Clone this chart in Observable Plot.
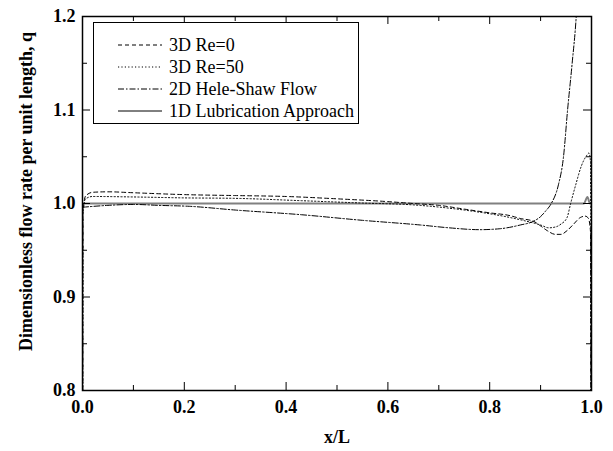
<!DOCTYPE html>
<html><head><meta charset="utf-8">
<script src="https://cdn.jsdelivr.net/npm/d3@7"></script>
<script src="https://cdn.jsdelivr.net/npm/@observablehq/plot@0.6"></script>
<style>
body{margin:0;background:#fff}
#chart{position:relative;width:613px;height:451px}
</style>
</head><body><div id="chart"></div>
<script>
// ---- tick values ----
const xTicks = [0, 0.2, 0.4, 0.6, 0.8, 1.0];
const xMinor = [0.1, 0.3, 0.5, 0.7, 0.9];
const yTicks = [0.8, 0.9, 1.0, 1.1, 1.2];
const yMinor = [0.85, 0.95, 1.05, 1.15];
const xTitle = "x/L";
const yTitle = "Dimensionless flow rate per unit length, q";
const seriesNames = ["3D Re=0", "3D Re=50", "2D Hele-Shaw Flow", "1D Lubrication Approach"];

// ---- series values ----
const xRe0 = [0, 0.001, 0.006, 0.02, 0.05, 0.1, 0.2, 0.3, 0.4, 0.5, 0.6, 0.65, 0.7, 0.75, 0.8, 0.84, 0.86, 0.886, 0.9, 0.913, 0.929, 0.94, 0.952, 0.965, 0.978, 0.988, 0.994, 0.998, 0.9995];
const qRe0 = [0.0, 0.99, 1.008, 1.012, 1.0125, 1.0115, 1.0095, 1.0085, 1.0075, 1.005, 1.002, 1.0, 0.998, 0.994, 0.99, 0.987, 0.984, 0.981, 0.976, 0.971, 0.967, 0.967, 0.971, 0.978, 0.985, 0.9865, 0.984, 0.97, 0.0];

const xRe50 = [0, 0.001, 0.006, 0.02, 0.1, 0.2, 0.3, 0.43, 0.55, 0.65, 0.75, 0.84, 0.88, 0.9, 0.916, 0.93, 0.94, 0.952, 0.959, 0.969, 0.98, 0.99, 0.995, 0.998, 0.9995];
const qRe50 = [0.0, 0.99, 1.005, 1.0075, 1.007, 1.006, 1.0055, 1.003, 1.0005, 0.9985, 0.993, 0.985, 0.98, 0.977, 0.974, 0.975, 0.978, 0.985, 1.0, 1.02, 1.04, 1.051, 1.054, 1.045, 0.0];

const xHS = [0, 0.05, 0.1, 0.15, 0.21, 0.3, 0.43, 0.55, 0.664, 0.72, 0.78, 0.82, 0.86, 0.886, 0.9, 0.91, 0.921, 0.935, 0.945, 0.953, 0.962, 0.97, 0.975];
const qHS = [0.996, 0.998, 0.999, 0.998, 0.997, 0.993, 0.988, 0.982, 0.977, 0.974, 0.972, 0.973, 0.977, 0.981, 0.986, 0.992, 1.0, 1.02, 1.05, 1.1, 1.15, 1.2, 1.25];

const x1D = [0, 0.5, 0.985, 0.992, 0.997, 1.0];
const q1D = [1.0, 1.0, 1.0, 1.007, 1.0, 1.0];

// ---- layout / style ----
const W = 613, H = 451, mL = 82, mR = 22, mT = 16, mB = 61;
const plotW = W - mL - mR, plotH = H - mT - mB;
const majorLen = 8, minorLen = 5;
const FONT = "'Liberation Serif', 'Times New Roman', serif";

const rows = (xs, qs) => xs.map((x, i) => ({x, q: qs[i]}));
const styles = [
  {stroke: "#000", strokeWidth: 1, strokeDasharray: "4,3"},
  {stroke: "#000", strokeWidth: 1, strokeDasharray: "1.2,2.2"},
  {stroke: "#000", strokeWidth: 1, strokeDasharray: "6,2,1.5,2"},
  {stroke: "#808080", strokeWidth: 2}
];
const data = [rows(xRe0, qRe0), rows(xRe50, qRe50), rows(xHS, qHS), rows(x1D, q1D)];

const fmt = d3.format(".1f");
const txt = {fontWeight: "bold", fontSize: 18, fontFamily: FONT, fill: "#000"};

const chart = Plot.plot({
  width: W, height: H,
  marginLeft: mL, marginRight: mR, marginTop: mT, marginBottom: mB,
  style: {fontFamily: FONT, background: "#fff", color: "#000"},
  x: {domain: [0, 1]},
  y: {domain: [0.8, 1.2]},
  marks: [
    ...[3, 2, 1, 0].map(i => Plot.line(data[i], {x: "x", y: "q", curve: "monotone-x", clip: true, ...styles[i]})),
    Plot.tickX(xTicks, {insetTop: plotH - majorLen, stroke: "#000"}),
    Plot.tickX(xTicks, {insetBottom: plotH - majorLen, stroke: "#000"}),
    Plot.tickX(xMinor, {insetTop: plotH - minorLen, stroke: "#000"}),
    Plot.tickX(xMinor, {insetBottom: plotH - minorLen, stroke: "#000"}),
    Plot.tickY(yTicks, {insetRight: plotW - majorLen, stroke: "#000"}),
    Plot.tickY(yTicks, {insetLeft: plotW - majorLen, stroke: "#000"}),
    Plot.tickY(yMinor, {insetRight: plotW - minorLen, stroke: "#000"}),
    Plot.tickY(yMinor, {insetLeft: plotW - minorLen, stroke: "#000"}),
    Plot.frame({stroke: "#000", strokeWidth: 1.5}),
    Plot.axisX(xTicks, {tickSize: 0, tickPadding: 10, tickFormat: fmt, label: null, ...txt}),
    Plot.axisY(yTicks, {tickSize: 0, tickPadding: 7, tickFormat: fmt, label: null, ...txt}),
    Plot.text([xTitle], {frameAnchor: "bottom", dy: 47, lineAnchor: "middle", textAnchor: "middle", ...txt}),
    Plot.text([yTitle], {frameAnchor: "left", dx: -56, dy: -12, rotate: -90, lineAnchor: "middle", textAnchor: "middle", ...txt})
  ]
});
document.getElementById("chart").appendChild(chart);

// ---- legend ----
const svg = d3.select(chart);
const lg = svg.append("g");
lg.append("rect").attr("x", 93.5).attr("y", 22.5).attr("width", 265).attr("height", 101)
  .attr("fill", "#fff").attr("stroke", "#000").attr("stroke-width", 1);
const rowY = [45, 67, 89, 111];
seriesNames.forEach((name, i) => {
  const s = styles[i];
  lg.append("line").attr("x1", 118).attr("x2", 162).attr("y1", rowY[i]).attr("y2", rowY[i])
    .attr("stroke", "#000").attr("stroke-width", 1)
    .attr("stroke-dasharray", s.strokeDasharray || null);
  lg.append("text").attr("x", 169).attr("y", rowY[i]).attr("dy", "0.35em")
    .attr("text-anchor", "start")
    .attr("font-family", FONT).attr("font-size", 18).attr("fill", "#000").text(name);
});
</script>
</body></html>
